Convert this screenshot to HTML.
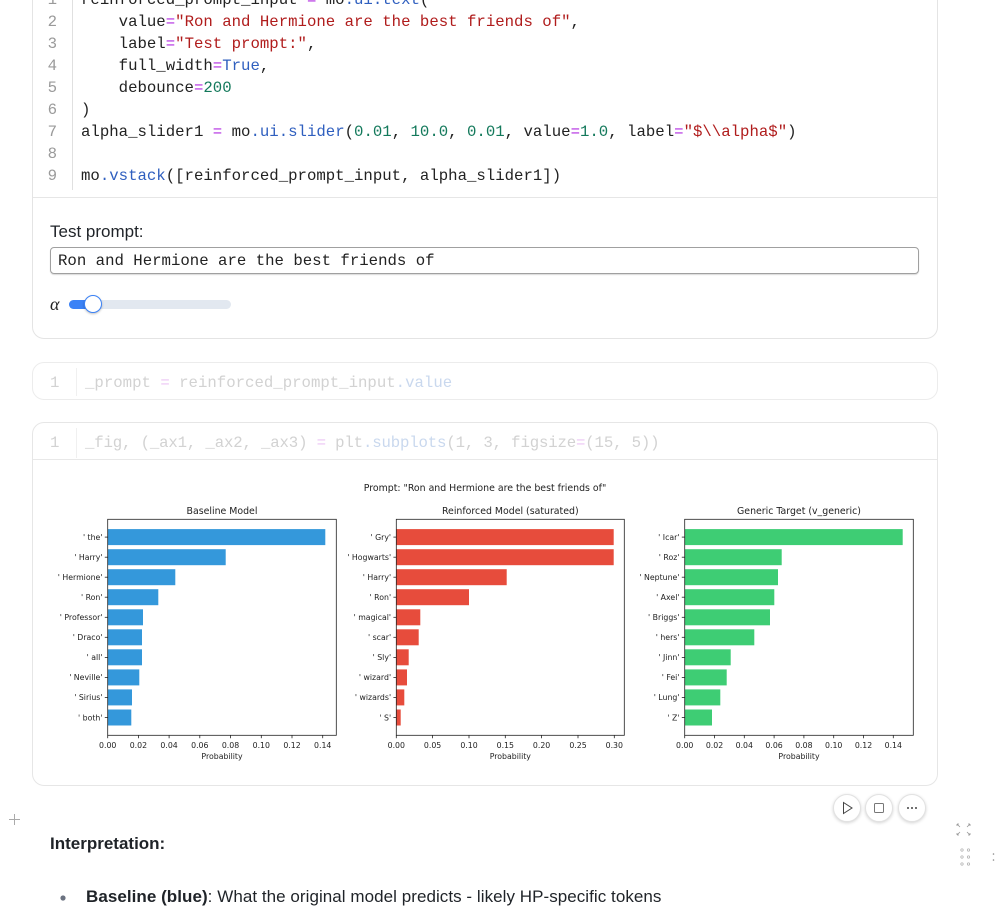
<!DOCTYPE html>
<html><head><meta charset="utf-8">
<style>
html,body{margin:0;padding:0;background:#fff;}
body{width:995px;height:914px;position:relative;overflow:hidden;font-family:"Liberation Sans",sans-serif;color:#1f2328;}
.abs{position:absolute;}
.mono{font-family:"Liberation Mono",monospace;font-size:15.7px;white-space:pre;}
.cl{position:absolute;left:81px;height:22px;line-height:22px;color:#222;}
.ln{position:absolute;left:40px;width:17px;text-align:right;height:22px;line-height:22px;color:#9a9a9a;}
.op{color:#b12be0}.st{color:#b01c1c}.nu{color:#13795b}.pr{color:#2f5fbf}
.fd{color:#d2d2d2}.fdop{color:#ecc6f5}.fdpr{color:#c9d8ee}
.btn{position:absolute;width:28px;height:28px;border-radius:50%;border:1px solid #e2e2e2;box-shadow:0 1px 3px rgba(0,0,0,.18);background:#fff;box-sizing:border-box;}
</style></head><body>

<!-- Cell 1 -->
<div class="abs" style="left:32px;top:-30px;width:904px;height:367px;border:1px solid #e4e4e4;border-radius:12px;"></div>
<div class="abs" style="left:33px;top:197px;width:904px;height:1px;background:#e6e6e6;"></div>
<div class="abs" style="left:72px;top:0;width:1px;height:190px;background:#e0e0e0;"></div>

<div class="ln mono" style="top:-11px;">1</div>
<div class="abs" style="left:62px;top:-8px;font-size:10px;color:#aaa;">&#8744;</div>
<div class="cl mono" style="top:-11px;">reinforced_prompt_input <span class="op">=</span> mo<span class="pr">.ui.text</span>(</div>
<div class="ln mono" style="top:11px;">2</div>
<div class="cl mono" style="top:11px;">    value<span class="op">=</span><span class="st">"Ron and Hermione are the best friends of"</span>,</div>
<div class="ln mono" style="top:33px;">3</div>
<div class="cl mono" style="top:33px;">    label<span class="op">=</span><span class="st">"Test prompt:"</span>,</div>
<div class="ln mono" style="top:55px;">4</div>
<div class="cl mono" style="top:55px;">    full_width<span class="op">=</span><span class="pr">True</span>,</div>
<div class="ln mono" style="top:77px;">5</div>
<div class="cl mono" style="top:77px;">    debounce<span class="op">=</span><span class="nu">200</span></div>
<div class="ln mono" style="top:99px;">6</div>
<div class="cl mono" style="top:99px;">)</div>
<div class="ln mono" style="top:121px;">7</div>
<div class="cl mono" style="top:121px;">alpha_slider1 <span class="op">=</span> mo<span class="pr">.ui.slider</span>(<span class="nu">0.01</span>, <span class="nu">10.0</span>, <span class="nu">0.01</span>, value<span class="op">=</span><span class="nu">1.0</span>, label<span class="op">=</span><span class="st">"$\\alpha$"</span>)</div>
<div class="ln mono" style="top:143px;">8</div>
<div class="ln mono" style="top:165px;">9</div>
<div class="cl mono" style="top:165px;">mo<span class="pr">.vstack</span>([reinforced_prompt_input, alpha_slider1])</div>

<div class="abs" style="left:50px;top:221px;font-size:17px;line-height:22px;color:#1f2328;">Test prompt:</div>
<div class="abs" style="left:50px;top:247px;width:869px;height:27px;border:1px solid #a0a0a0;border-radius:4px;box-sizing:border-box;box-shadow:0 1px 1px rgba(0,0,0,.15);"></div>
<div class="abs mono" style="left:58px;top:250px;line-height:22px;color:#222;">Ron and Hermione are the best friends of</div>

<div class="abs" style="left:50px;top:293px;font-family:'Liberation Serif',serif;font-style:italic;font-size:18px;line-height:22px;color:#222;">α</div>
<div class="abs" style="left:69px;top:300px;width:162px;height:9px;border-radius:5px;background:#e2e8f0;"></div>
<div class="abs" style="left:69px;top:300px;width:26px;height:9px;border-radius:5px;background:#3b82f6;"></div>
<div class="abs" style="left:84px;top:295px;width:18px;height:18px;border-radius:50%;background:#fff;border:1.5px solid #3b82f6;box-sizing:border-box;box-shadow:0 1px 2px rgba(0,0,0,.25);"></div>

<!-- Cell 2 -->
<div class="abs" style="left:32px;top:362px;width:904px;height:36px;border:1px solid #ececec;border-radius:12px;"></div>
<div class="abs" style="left:76px;top:368px;width:1px;height:28px;background:#f0f0f0;"></div>
<div class="abs mono fd" style="left:50px;top:372px;line-height:22px;">1</div>
<div class="abs mono fd" style="left:85px;top:372px;line-height:22px;">_prompt <span class="fdop">=</span> reinforced_prompt_input<span class="fdpr">.value</span></div>

<!-- Cell 3 -->
<div class="abs" style="left:32px;top:422px;width:904px;height:362px;border:1px solid #e6e6e6;border-radius:12px;"></div>
<div class="abs" style="left:33px;top:459px;width:904px;height:1px;background:#e8e8e8;"></div>
<div class="abs" style="left:76px;top:428px;width:1px;height:30px;background:#f0f0f0;"></div>
<div class="abs mono fd" style="left:50px;top:432px;line-height:22px;">1</div>
<div class="abs mono fd" style="left:85px;top:432px;line-height:22px;letter-spacing:-0.15px;">_fig, (_ax1, _ax2, _ax3) <span class="fdop">=</span> plt<span class="fdpr">.subplots</span>(1, 3, figsize<span class="fdop">=</span>(15, 5))</div>

<div class="btn" style="left:833px;top:794px;"></div>
<div class="btn" style="left:865px;top:794px;"></div>
<div class="btn" style="left:898px;top:794px;"></div>

<svg class="abs" style="left:0;top:0;" width="995" height="914" viewBox="0 0 995 914" font-family="DejaVu Sans, Liberation Sans, sans-serif">
<text x="485" y="491" font-size="9.4" text-anchor="middle" fill="#222">Prompt: "Ron and Hermione are the best friends of"</text>

<!-- Baseline -->
<g>
<text x="222" y="514" font-size="9.4" text-anchor="middle" fill="#222">Baseline Model</text>
<g fill="#3498db">
<rect x="107.7" y="529.1" width="217.6" height="16"/>
<rect x="107.7" y="549.2" width="118" height="16"/>
<rect x="107.7" y="569.2" width="67.6" height="16"/>
<rect x="107.7" y="589.2" width="50.6" height="16"/>
<rect x="107.7" y="609.3" width="35.3" height="16"/>
<rect x="107.7" y="629.3" width="34.3" height="16"/>
<rect x="107.7" y="649.3" width="34.3" height="16"/>
<rect x="107.7" y="669.4" width="31.6" height="16"/>
<rect x="107.7" y="689.4" width="24.3" height="16"/>
<rect x="107.7" y="709.5" width="23.6" height="16"/>
</g>
<rect x="107.7" y="519.3" width="228.6" height="216" fill="none" stroke="#222" stroke-width="0.8"/>
<g stroke="#222" stroke-width="0.8">
<line x1="104.8" x2="107.7" y1="537.1" y2="537.1"/><line x1="104.8" x2="107.7" y1="557.2" y2="557.2"/><line x1="104.8" x2="107.7" y1="577.2" y2="577.2"/><line x1="104.8" x2="107.7" y1="597.2" y2="597.2"/><line x1="104.8" x2="107.7" y1="617.3" y2="617.3"/><line x1="104.8" x2="107.7" y1="637.3" y2="637.3"/><line x1="104.8" x2="107.7" y1="657.4" y2="657.4"/><line x1="104.8" x2="107.7" y1="677.4" y2="677.4"/><line x1="104.8" x2="107.7" y1="697.4" y2="697.4"/><line x1="104.8" x2="107.7" y1="717.5" y2="717.5"/>
<line x1="107.7" x2="107.7" y1="735.3" y2="738.2"/><line x1="138.4" x2="138.4" y1="735.3" y2="738.2"/><line x1="169.1" x2="169.1" y1="735.3" y2="738.2"/><line x1="199.8" x2="199.8" y1="735.3" y2="738.2"/><line x1="230.5" x2="230.5" y1="735.3" y2="738.2"/><line x1="261.3" x2="261.3" y1="735.3" y2="738.2"/><line x1="292" x2="292" y1="735.3" y2="738.2"/><line x1="322.7" x2="322.7" y1="735.3" y2="738.2"/>
</g>
<g font-size="7.8" fill="#222" text-anchor="end">
<text x="102.5" y="539.9">' the'</text><text x="102.5" y="560">' Harry'</text><text x="102.5" y="580">' Hermione'</text><text x="102.5" y="600">' Ron'</text><text x="102.5" y="620.1">' Professor'</text><text x="102.5" y="640.1">' Draco'</text><text x="102.5" y="660.2">' all'</text><text x="102.5" y="680.2">' Neville'</text><text x="102.5" y="700.2">' Sirius'</text><text x="102.5" y="720.3">' both'</text>
</g>
<g font-size="7.8" fill="#222" text-anchor="middle">
<text x="107.7" y="748.2">0.00</text><text x="138.4" y="748.2">0.02</text><text x="169.1" y="748.2">0.04</text><text x="199.8" y="748.2">0.06</text><text x="230.5" y="748.2">0.08</text><text x="261.3" y="748.2">0.10</text><text x="292" y="748.2">0.12</text><text x="322.7" y="748.2">0.14</text>
<text x="222" y="759.2">Probability</text>
</g>
</g>

<!-- Reinforced -->
<g>
<text x="510.3" y="514" font-size="9.4" text-anchor="middle" fill="#222">Reinforced Model (saturated)</text>
<g fill="#e74c3c">
<rect x="396.3" y="529.1" width="217.4" height="16"/>
<rect x="396.3" y="549.2" width="217.4" height="16"/>
<rect x="396.3" y="569.2" width="110.4" height="16"/>
<rect x="396.3" y="589.2" width="72.7" height="16"/>
<rect x="396.3" y="609.3" width="24" height="16"/>
<rect x="396.3" y="629.3" width="22.4" height="16"/>
<rect x="396.3" y="649.3" width="12.4" height="16"/>
<rect x="396.3" y="669.4" width="10.7" height="16"/>
<rect x="396.3" y="689.4" width="8" height="16"/>
<rect x="396.3" y="709.5" width="4.4" height="16"/>
</g>
<rect x="396.3" y="519.3" width="228" height="216" fill="none" stroke="#222" stroke-width="0.8"/>
<g stroke="#222" stroke-width="0.8">
<line x1="393.4" x2="396.3" y1="537.1" y2="537.1"/><line x1="393.4" x2="396.3" y1="557.2" y2="557.2"/><line x1="393.4" x2="396.3" y1="577.2" y2="577.2"/><line x1="393.4" x2="396.3" y1="597.2" y2="597.2"/><line x1="393.4" x2="396.3" y1="617.3" y2="617.3"/><line x1="393.4" x2="396.3" y1="637.3" y2="637.3"/><line x1="393.4" x2="396.3" y1="657.4" y2="657.4"/><line x1="393.4" x2="396.3" y1="677.4" y2="677.4"/><line x1="393.4" x2="396.3" y1="697.4" y2="697.4"/><line x1="393.4" x2="396.3" y1="717.5" y2="717.5"/>
<line x1="396.3" x2="396.3" y1="735.3" y2="738.2"/><line x1="432.6" x2="432.6" y1="735.3" y2="738.2"/><line x1="469" x2="469" y1="735.3" y2="738.2"/><line x1="505.3" x2="505.3" y1="735.3" y2="738.2"/><line x1="541.6" x2="541.6" y1="735.3" y2="738.2"/><line x1="578" x2="578" y1="735.3" y2="738.2"/><line x1="614.3" x2="614.3" y1="735.3" y2="738.2"/>
</g>
<g font-size="7.8" fill="#222" text-anchor="end">
<text x="391.1" y="539.9">' Gry'</text><text x="391.1" y="560">' Hogwarts'</text><text x="391.1" y="580">' Harry'</text><text x="391.1" y="600">' Ron'</text><text x="391.1" y="620.1">' magical'</text><text x="391.1" y="640.1">' scar'</text><text x="391.1" y="660.2">' Sly'</text><text x="391.1" y="680.2">' wizard'</text><text x="391.1" y="700.2">' wizards'</text><text x="391.1" y="720.3">' S'</text>
</g>
<g font-size="7.8" fill="#222" text-anchor="middle">
<text x="396.3" y="748.2">0.00</text><text x="432.6" y="748.2">0.05</text><text x="469" y="748.2">0.10</text><text x="505.3" y="748.2">0.15</text><text x="541.6" y="748.2">0.20</text><text x="578" y="748.2">0.25</text><text x="614.3" y="748.2">0.30</text>
<text x="510.3" y="759.2">Probability</text>
</g>
</g>

<!-- Generic -->
<g>
<text x="799" y="514" font-size="9.4" text-anchor="middle" fill="#222">Generic Target (v_generic)</text>
<g fill="#3ecd74">
<rect x="684.7" y="529.1" width="218" height="16"/>
<rect x="684.7" y="549.2" width="97" height="16"/>
<rect x="684.7" y="569.2" width="93.3" height="16"/>
<rect x="684.7" y="589.2" width="89.6" height="16"/>
<rect x="684.7" y="609.3" width="85.3" height="16"/>
<rect x="684.7" y="629.3" width="69.6" height="16"/>
<rect x="684.7" y="649.3" width="46" height="16"/>
<rect x="684.7" y="669.4" width="42" height="16"/>
<rect x="684.7" y="689.4" width="35.6" height="16"/>
<rect x="684.7" y="709.5" width="27.3" height="16"/>
</g>
<rect x="684.7" y="519.3" width="228.6" height="216" fill="none" stroke="#222" stroke-width="0.8"/>
<g stroke="#222" stroke-width="0.8">
<line x1="681.8" x2="684.7" y1="537.1" y2="537.1"/><line x1="681.8" x2="684.7" y1="557.2" y2="557.2"/><line x1="681.8" x2="684.7" y1="577.2" y2="577.2"/><line x1="681.8" x2="684.7" y1="597.2" y2="597.2"/><line x1="681.8" x2="684.7" y1="617.3" y2="617.3"/><line x1="681.8" x2="684.7" y1="637.3" y2="637.3"/><line x1="681.8" x2="684.7" y1="657.4" y2="657.4"/><line x1="681.8" x2="684.7" y1="677.4" y2="677.4"/><line x1="681.8" x2="684.7" y1="697.4" y2="697.4"/><line x1="681.8" x2="684.7" y1="717.5" y2="717.5"/>
<line x1="684.7" x2="684.7" y1="735.3" y2="738.2"/><line x1="714.5" x2="714.5" y1="735.3" y2="738.2"/><line x1="744.3" x2="744.3" y1="735.3" y2="738.2"/><line x1="774.1" x2="774.1" y1="735.3" y2="738.2"/><line x1="803.9" x2="803.9" y1="735.3" y2="738.2"/><line x1="833.7" x2="833.7" y1="735.3" y2="738.2"/><line x1="863.5" x2="863.5" y1="735.3" y2="738.2"/><line x1="893.3" x2="893.3" y1="735.3" y2="738.2"/>
</g>
<g font-size="7.8" fill="#222" text-anchor="end">
<text x="679.5" y="539.9">' Icar'</text><text x="679.5" y="560">' Roz'</text><text x="679.5" y="580">' Neptune'</text><text x="679.5" y="600">' Axel'</text><text x="679.5" y="620.1">' Briggs'</text><text x="679.5" y="640.1">' hers'</text><text x="679.5" y="660.2">' Jinn'</text><text x="679.5" y="680.2">' Fei'</text><text x="679.5" y="700.2">' Lung'</text><text x="679.5" y="720.3">' Z'</text>
</g>
<g font-size="7.8" fill="#222" text-anchor="middle">
<text x="684.7" y="748.2">0.00</text><text x="714.5" y="748.2">0.02</text><text x="744.3" y="748.2">0.04</text><text x="774.1" y="748.2">0.06</text><text x="803.9" y="748.2">0.08</text><text x="833.7" y="748.2">0.10</text><text x="863.5" y="748.2">0.12</text><text x="893.3" y="748.2">0.14</text>
<text x="799" y="759.2">Probability</text>
</g>
</g>

<!-- buttons -->
<g fill="none" stroke="#444" stroke-width="1">
<path d="M843.5 802.5 L852 808 L843.5 813.5 Z"/>
<rect x="874.5" y="803.5" width="9" height="9" rx="1" stroke="#777"/>
</g>
<g fill="#444"><circle cx="908" cy="808" r="1"/><circle cx="912" cy="808" r="1"/><circle cx="916" cy="808" r="1"/></g>
<!-- + -->
<g stroke="#aaa" stroke-width="1"><line x1="9" x2="20" y1="819.5" y2="819.5"/><line x1="14.5" x2="14.5" y1="814" y2="825"/></g>
<!-- expand icon -->
<g stroke="#999" stroke-width="0.8" fill="none">
<path d="M957 824 L960 827 M957 824 L957 826 M957 824 L959 824"/>
<path d="M970 824 L967 827 M970 824 L970 826 M970 824 L968 824"/>
<path d="M957 835 L960 832 M957 835 L957 833 M957 835 L959 835"/>
<path d="M970 835 L967 832 M970 835 L970 833 M970 835 L968 835"/>
</g>
<g fill="none" stroke="#aaa" stroke-width="0.7">
<circle cx="962" cy="850" r="1.2"/><circle cx="968.5" cy="850" r="1.2"/>
<circle cx="962" cy="857" r="1.2"/><circle cx="968.5" cy="857" r="1.2"/>
<circle cx="962" cy="864" r="1.2"/><circle cx="968.5" cy="864" r="1.2"/>
</g>
<g fill="#888"><circle cx="993.5" cy="854" r="0.8"/><circle cx="993.5" cy="860" r="0.8"/></g>
<circle cx="63" cy="898" r="2.6" fill="#6b7280"/>
</svg>

<div class="abs" style="left:50px;top:833px;font-size:17px;line-height:22px;font-weight:bold;color:#1f2328;">Interpretation:</div>
<div class="abs" style="left:86px;top:886px;font-size:17px;line-height:22px;color:#1f2328;white-space:nowrap;letter-spacing:0.05px;"><b>Baseline (blue)</b>: What the original model predicts - likely HP-specific tokens</div>

</body></html>
